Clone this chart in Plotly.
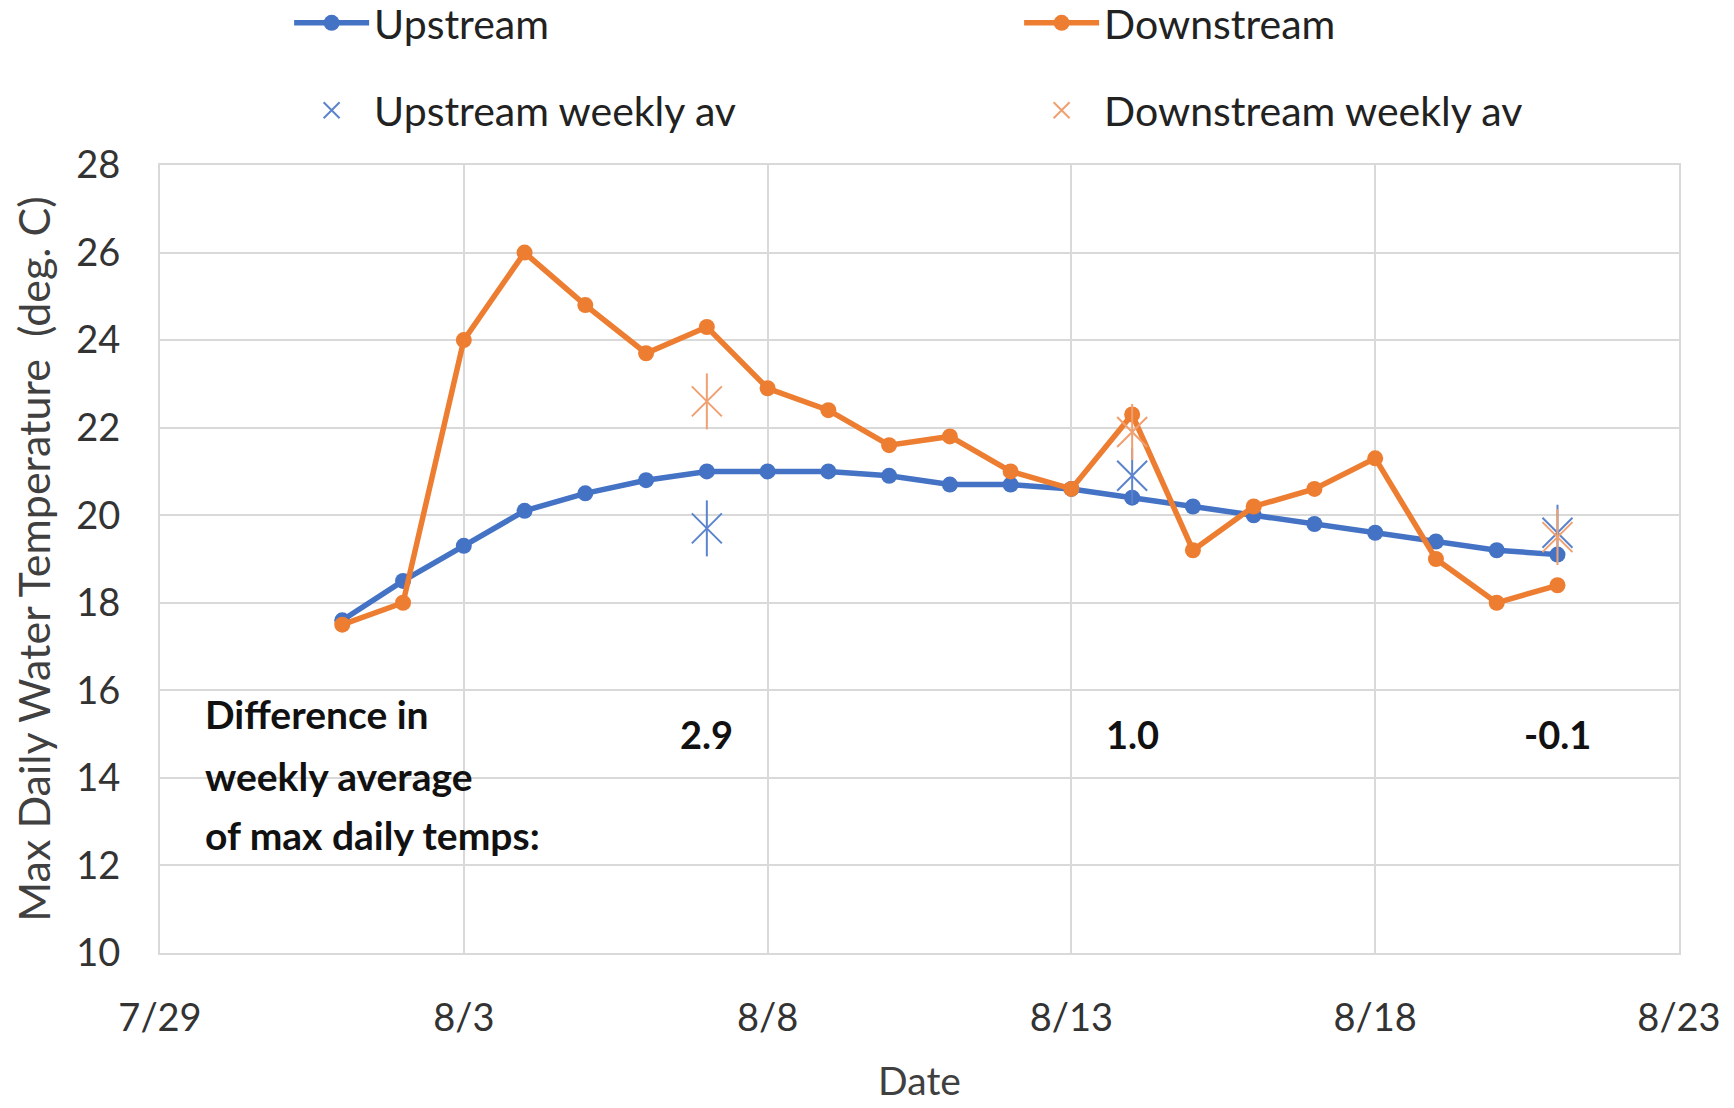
import plotly.graph_objects as go

# Daily max water temperatures, 1-21 Aug
dates = [f"2020-08-{d:02d}" for d in range(1, 22)]
upstream = [17.6, 18.5, 19.3, 20.1, 20.5, 20.8, 21.0, 21.0, 21.0, 20.9, 20.7,
            20.7, 20.6, 20.4, 20.2, 20.0, 19.8, 19.6, 19.4, 19.2, 19.1]
downstream = [17.5, 18.0, 24.0, 26.0, 24.8, 23.7, 24.3, 22.9, 22.4, 21.6, 21.8,
              21.0, 20.6, 22.3, 19.2, 20.2, 20.6, 21.3, 19.0, 18.0, 18.4]

# Weekly averages, plotted at the end of each week
week_dates = ["2020-08-07", "2020-08-14", "2020-08-21"]
up_weekly = [19.7, 20.9, 19.6]
down_weekly = [22.6, 21.9, 19.5]
diff_labels = ["2.9", "1.0", "-0.1"]
diff_y = 15.0

note_lines = ["Difference in", "weekly average", "of max daily temps:"]
note_y = [15.45, 14.05, 12.7]

BLUE = "#4472C4"
ORANGE = "#ED7D31"
FONT = "Lato"
GRID = "#d9d9d9"

fig = go.Figure()
fig.add_trace(go.Scatter(
    x=dates, y=upstream, mode="lines+markers", name="Upstream",
    line=dict(color=BLUE, width=5.5), marker=dict(size=16, color=BLUE),
    legend="legend",
))
fig.add_trace(go.Scatter(
    x=dates, y=downstream, mode="lines+markers", name="Downstream",
    line=dict(color=ORANGE, width=5.5), marker=dict(size=16, color=ORANGE),
    legend="legend",
))
for vals, color, name in [(up_weekly, "#5b84cc", "Upstream weekly av"),
                          (down_weekly, "#f0a070", "Downstream weekly av")]:
    fig.add_trace(go.Scatter(
        x=week_dates, y=vals, mode="markers", name=name,
        marker=dict(symbol="x-thin-open", size=30, color=color,
                    line=dict(color=color, width=2)),
        legend="legend2",
    ))
    fig.add_trace(go.Scatter(
        x=week_dates, y=vals, mode="markers", showlegend=False,
        marker=dict(symbol="line-ns-open", size=40, color=color,
                    line=dict(color=color, width=2)),
    ))

for d, t in zip(week_dates, diff_labels):
    fig.add_annotation(x=d, y=diff_y, text=f"<b>{t}</b>", showarrow=False,
                       font=dict(size=38, color="#111111", family=FONT))
for t, y in zip(note_lines, note_y):
    fig.add_annotation(x="2020-07-29T17:00", y=y, text=f"<b>{t}</b>", showarrow=False,
                       xanchor="left", font=dict(size=39, color="#111111", family=FONT))

legend_style = dict(orientation="h", x=0.085, xanchor="left", yanchor="middle",
                    entrywidth=640, entrywidthmode="pixels", itemwidth=75,
                    font=dict(size=41, color="#222222"), bgcolor="rgba(0,0,0,0)")

fig.update_layout(
    width=1734, height=1108,
    paper_bgcolor="white", plot_bgcolor="white",
    font=dict(family=FONT, size=38, color="#333333"),
    margin=dict(l=160, r=55, t=165, b=155, autoexpand=False),
    legend=dict(y=1.18, **legend_style),
    legend2=dict(y=1.069, **legend_style),
    xaxis=dict(
        type="date", range=["2020-07-29", "2020-08-23"],
        tick0="2020-07-29", dtick=5 * 86400000, tickformat="%-m/%-d",
        showgrid=True, gridcolor=GRID, gridwidth=2,
        showline=True, linecolor=GRID, linewidth=2, mirror=True,
        ticks="", ticklabelstandoff=30,
        title=dict(text="Date", standoff=30, font=dict(size=39, color="#404040")),
        tickfont=dict(size=38, color="#333333"),
    ),
    yaxis=dict(
        range=[10, 28], dtick=2,
        showgrid=True, gridcolor=GRID, gridwidth=2,
        showline=True, linecolor=GRID, linewidth=2, mirror=True,
        ticks="", ticklabelstandoff=30, zeroline=False,
        title=dict(text="Max Daily Water Temperature  (deg. C)", standoff=12,
                   font=dict(size=43, color="#404040")),
        tickfont=dict(size=38, color="#333333"),
    ),
)

# drop the default 8px body margin so the figure sits at the window origin
fig.write_html("out.html", config={"displayModeBar": False},
               post_script="document.body.style.margin='0';")
